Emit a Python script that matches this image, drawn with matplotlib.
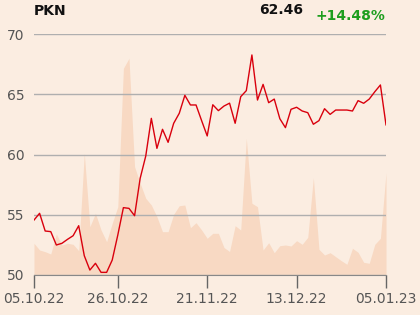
import matplotlib
matplotlib.use("Agg")
import matplotlib.pyplot as plt
import numpy as np

ticker = "PKN"
last_price = "62.46"
change = "+14.48%"

x_tick_pos = [0, 15, 31, 47, 63]
x_tick_labels = ["05.10.22", "26.10.22", "21.11.22", "13.12.22", "05.01.23"]
y_ticks = [50, 55, 60, 65, 70]

price = [54.56, 55.12, 53.65, 53.6, 52.49, 52.63, 52.96, 53.26, 54.09, 51.6,
         50.41, 50.97, 50.22, 50.22, 51.24, 53.32, 55.59, 55.53, 54.92, 58.02,
         59.87, 63.0, 60.51, 62.09, 61.01, 62.59, 63.42, 64.91, 64.11, 64.11,
         62.81, 61.54, 64.13, 63.64, 64.02, 64.26, 62.59, 64.8, 65.3, 68.26,
         64.52, 65.82, 64.3, 64.6, 62.97, 62.23, 63.75, 63.92, 63.61, 63.47,
         62.51, 62.81, 63.8, 63.33, 63.69, 63.69, 63.69, 63.61, 64.47, 64.25,
         64.6, 65.21, 65.77, 62.46]

volume = [31.7, 25, 23.3, 21, 41, 30, 31.7, 30.7, 24.3, 121.7,
          48.3, 61.7, 45, 33.3, 51.7, 68.3, 206.7, 216.7, 108.3, 91.7,
          76.7, 70, 58.3, 43.3, 43.3, 60.7, 69.3, 70, 47.3, 52.3,
          45, 36.7, 41.7, 41.7, 27.5, 23.5, 49.3, 45, 136.7, 71.7,
          68.3, 25, 32.3, 22.3, 29.3, 30, 29, 34.3, 30.7, 37.7,
          97.3, 25.7, 20, 22.3, 18.3, 14.3, 10.7, 26.7, 22.7, 12.7,
          11.7, 30.7, 36.7, 102.3]

bg = "#FBEDE1"
fig = plt.figure(figsize=(4.2, 3.15), dpi=100, facecolor=bg)
ax = fig.add_axes([34/420, 1-275/315, 352/420, 241/315])
ax.set_facecolor(bg)
x = np.arange(len(price))

ax2 = ax.twinx()
ax2.fill_between(x, 0, volume, color="#F8D9C3", lw=0)
ax2.set_ylim(0, 241)
ax2.set_yticks([])
for s in ax2.spines.values():
    s.set_visible(False)
ax2.set_zorder(0)
ax.set_zorder(1)
ax.patch.set_visible(False)
ax2.patch.set_facecolor(bg)
ax2.patch.set_visible(True)

ax.plot(x, price, color="#D9000D", lw=1.0)
ax.set_xlim(0, 63)
ax.set_ylim(50, 70)
ax.set_yticks(y_ticks)
ax.yaxis.grid(True, color="#AFAFAF", lw=1)
ax.set_axisbelow(True)
ax.tick_params(axis="y", length=0, labelsize=10, labelcolor="#555555", pad=7)
ax.set_xticks(x_tick_pos)
ax.set_xticklabels(x_tick_labels)
ax.tick_params(axis="x", length=9, width=1, color="#666666", labelsize=10,
               labelcolor="#555555", pad=3)
for side in ["left", "right", "top"]:
    ax.spines[side].set_visible(False)
ax.spines["bottom"].set_color("#888888")

fig.text(34/420, 1-11/315, ticker, fontsize=10, fontweight="bold",
         ha="left", va="center", color="#111111")
fig.text(303/420, 1-10/315, last_price, fontsize=10, fontweight="bold",
         ha="right", va="center", color="#111111")
fig.text(385/420, 1-16/315, change, fontsize=10, fontweight="bold",
         ha="right", va="center", color="#1E9E1E")

fig.savefig("out.png", dpi=100, facecolor=bg)
